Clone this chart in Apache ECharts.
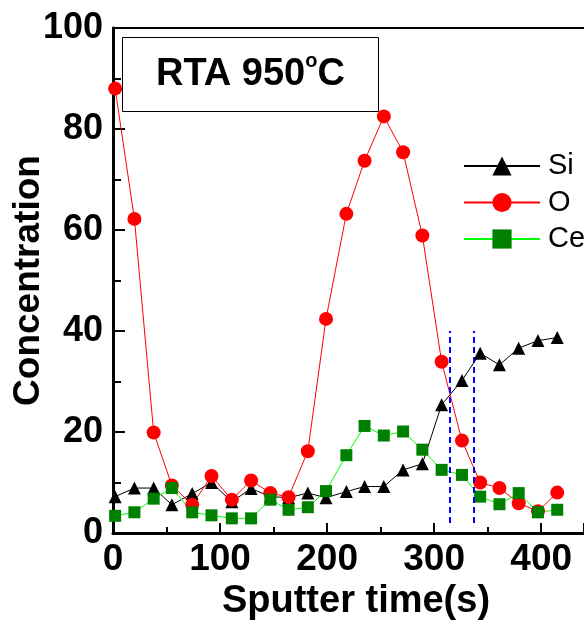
<!DOCTYPE html>
<html>
<head>
<meta charset="utf-8">
<style>
html,body{margin:0;padding:0;background:#fff;}
#chart{width:584px;height:625px;}
</style>
<script src="https://cdn.jsdelivr.net/npm/echarts@6/dist/echarts.min.js"></script>
</head>
<body>
<div id="chart"></div>
<script>
// Sputter time (s) of each sample
var times = [2, 20, 38, 55, 74, 92, 111, 129, 147, 164, 182, 199, 218, 235, 253, 271, 289, 307, 326, 343, 361, 379, 397, 415];
var siValues = [7.2, 8.9, 8.9, 5.6, 7.8, 10.0, 6.2, 8.8, 7.2, 7.0, 7.9, 7.0, 8.2, 9.2, 9.2, 12.5, 13.7, 25.4, 30.2, 35.6, 33.3, 36.6, 38.1, 38.7];
var oValues = [88.0, 62.2, 19.9, 9.4, 5.6, 11.3, 6.6, 10.4, 7.9, 7.1, 16.2, 42.4, 63.2, 73.7, 82.5, 75.4, 58.9, 33.9, 18.3, 10.0, 8.9, 5.9, 4.3, 8.0];
var ceValues = [3.4, 4.1, 6.8, 8.9, 4.1, 3.5, 2.9, 2.9, 6.6, 4.6, 5.1, 8.3, 15.4, 21.2, 19.3, 20.1, 16.5, 12.5, 11.5, 7.2, 5.7, 7.9, 4.1, 4.6];
// interface markers (blue dashed lines)
var dashX = [314.5, 337];
var dashY = [2, 40];

function pairs(xs, ys) { return xs.map(function (x, i) { return [x, ys[i]]; }); }

var FONT = "'Liberation Sans', Arial, sans-serif";
var chart = echarts.init(document.getElementById('chart'), null, {renderer: 'canvas'});
chart.setOption({
  animation: false,
  backgroundColor: '#ffffff',
  title: {
    text: 'RTA 950{sup|o}C',
    left: 122, top: 37,
    padding: [14, 34, 14, 34],
    borderColor: '#000', borderWidth: 1,
    textStyle: {
      fontFamily: FONT, fontSize: 38, fontWeight: 'bold', color: '#000', lineHeight: 47,
      rich: { sup: { fontFamily: FONT, fontSize: 20, fontWeight: 'bold', color: '#000', verticalAlign: 'top', lineHeight: 47, padding: [0, 0, 18, 0] } }
    }
  },
  legend: {
    orient: 'vertical', left: 463, top: 151, padding: 0,
    itemWidth: 76, itemHeight: 24, itemGap: 6.5,
    textStyle: { fontFamily: FONT, fontSize: 29, color: '#000', lineHeight: 30, padding: [0, 0, 0, 3] },
    data: ['Si', 'O', 'Ce']
  },
  grid: { left: 113, top: 28, right: 0, bottom: 92, outerBoundsMode: 'none', containLabel: false },
  xAxis: [{
    type: 'value', min: 0, max: 440, interval: 100,
    name: 'Sputter time(s)', nameLocation: 'middle', nameGap: 50, nameMoveOverlap: false,
    nameTextStyle: { fontFamily: FONT, fontSize: 38, fontWeight: 'bold', color: '#000', padding: [0, 0, 0, 15] },
    axisLine: { lineStyle: { color: '#000', width: 3 } },
    axisTick: { inside: true, length: 10, lineStyle: { color: '#000', width: 2 } },
    minorTick: { show: true, splitNumber: 2, length: 6, lineStyle: { color: '#000', width: 2 } },
    axisLabel: { fontFamily: FONT, fontSize: 37, fontWeight: 'bold', color: '#000', margin: 8, showMaxLabel: false },
    splitLine: { show: false }
  }, {
    type: 'value', position: 'top', min: 0, max: 440,
    axisLine: { show: true, lineStyle: { color: '#000', width: 2 } },
    axisTick: { show: false }, axisLabel: { show: false }, splitLine: { show: false }
  }],
  yAxis: {
    type: 'value', min: 0, max: 100, interval: 20,
    name: 'Concentration', nameLocation: 'middle', nameGap: 66, nameRotate: 90, nameMoveOverlap: false,
    nameTextStyle: { fontFamily: FONT, fontSize: 37, fontWeight: 'bold', color: '#000' },
    axisLine: { show: true, lineStyle: { color: '#000', width: 3 } },
    axisTick: { inside: true, length: 12, lineStyle: { color: '#000', width: 2 } },
    minorTick: { show: true, splitNumber: 2, length: 8, lineStyle: { color: '#000', width: 2 } },
    axisLabel: { fontFamily: FONT, fontSize: 36, fontWeight: 'bold', color: '#000', margin: 10 },
    splitLine: { show: false }
  },
  series: [{
    name: 'Si', type: 'line', data: pairs(times, siValues),
    symbol: 'triangle', symbolSize: 13,
    itemStyle: { color: '#000' }, lineStyle: { color: '#000', width: 1 },
    markLine: {
      silent: true, symbol: 'none', label: { show: false },
      lineStyle: { color: '#0000ff', width: 2, type: [6, 4] },
      data: dashX.map(function (x) { return [{ coord: [x, dashY[0]] }, { coord: [x, dashY[1]] }]; })
    }
  }, {
    name: 'O', type: 'line', data: pairs(times, oValues),
    symbol: 'circle', symbolSize: 14,
    itemStyle: { color: '#ff0000' }, lineStyle: { color: '#ff0000', width: 1 }
  }, {
    name: 'Ce', type: 'line', data: pairs(times, ceValues),
    symbol: 'rect', symbolSize: 12,
    itemStyle: { color: '#008000' }, lineStyle: { color: '#00ff00', width: 1 }
  }]
});
</script>
</body>
</html>
